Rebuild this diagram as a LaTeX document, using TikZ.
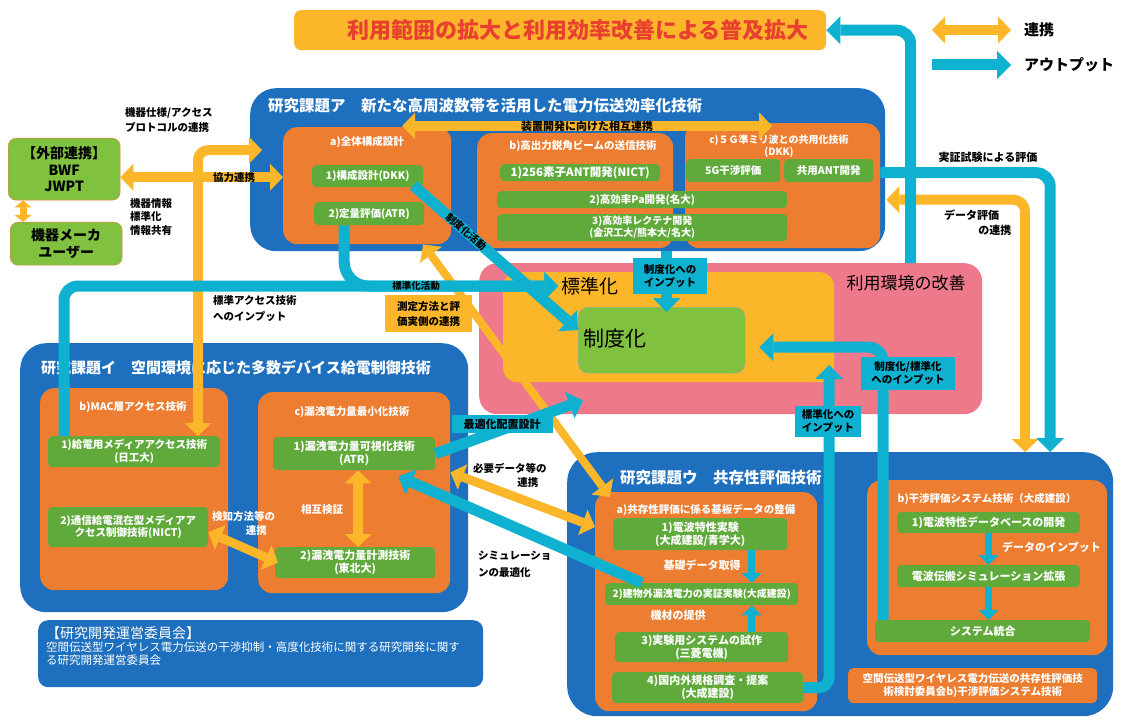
\documentclass[tikz,border=0pt]{standalone}
\usepackage{fontspec}
\setmainfont{Noto Sans CJK JP}
\usetikzlibrary{arrows.meta}
\definecolor{kadaiblue}{RGB}{30,112,190}
\definecolor{suborange}{RGB}{237,125,49}
\definecolor{boxgreen}{RGB}{96,170,60}
\definecolor{seidogreen}{RGB}{128,194,64}
\definecolor{linkyellow}{RGB}{252,182,42}
\definecolor{outcyan}{RGB}{14,178,208}
\definecolor{envpink}{RGB}{237,121,138}
\definecolor{bannerred}{RGB}{232,64,48}

\begin{document}
\begin{tikzpicture}[x=1pt,y=-1pt,
  kadai/.style={fill=kadaiblue,rounded corners=26pt,anchor=north west,inner sep=0pt},
  subbox/.style={fill=suborange,rounded corners=14pt,anchor=north west,inner sep=0pt},
  gbox/.style={fill=boxgreen,rounded corners=4pt,anchor=north west,inner sep=0pt,
    text=white,align=center,font=\bfseries\fontsize{10.5}{12.5}\selectfont},
  kadaittl/.style={anchor=west,inner sep=0pt,text=white,font=\bfseries\fontsize{15.5}{18}\selectfont},
  subttl/.style={inner sep=0pt,text=white,align=center,font=\bfseries\fontsize{10.5}{12.5}\selectfont},
  lbl/.style={inner sep=0pt,text=black,align=left,font=\bfseries\fontsize{10.5}{15}\selectfont},
  wlbl/.style={lbl,text=white},
  cyanlbl/.style={fill=outcyan,inner sep=2pt,text=black,align=center,font=\bfseries\fontsize{10.5}{13}\selectfont},
  linkarr/.style={draw=linkyellow,line width=10pt,>={Triangle[length=13pt,width=27pt,line width=0pt]}},
  outarr/.style={draw=outcyan,line width=11pt,>={Triangle[length=14pt,width=28pt,line width=0pt]}},
  smallout/.style={draw=outcyan,line width=7pt,>={Triangle[length=10pt,width=20pt,line width=0pt]}},
]
\fill[white] (0,0) rectangle (1135,722);
\useasboundingbox (0,0) rectangle (1135,722);

% banner and legend
\node[fill=linkyellow,rounded corners=7pt,anchor=north west,inner sep=0pt,
  minimum width=532pt,minimum height=40pt] (banner) at (294,10) {};
\node[inner sep=0pt,text=bannerred,font=\bfseries\fontsize{22}{24}\selectfont] (bannerT) at (578,30)
  {利用範囲の拡大と利用効率改善による普及拡大};
\coordinate (legL1) at (932,30);
\coordinate (legL2) at (1011,30);
\coordinate (legO1) at (932,65);
\coordinate (legO2) at (1011,65);
\draw[linkarr,<->] (legL1) -- (legL2);
\draw[outarr,->] (legO1) -- (legO2);
\node[lbl,anchor=west,font=\bfseries\fontsize{15}{17}\selectfont] (legLink) at (1024,30) {連携};
\node[lbl,anchor=west,font=\bfseries\fontsize{15}{17}\selectfont] (legOut) at (1024,65) {アウトプット};

% research topic A
\node[kadai,minimum width=635pt,minimum height=163pt] (kadaiA) at (250,88) {};
\node[kadaittl] (kadaiAT) at (268,106) {研究課題ア　新たな高周波数帯を活用した電力伝送効率化技術};
\node[subbox,minimum width=168pt,minimum height=117pt] (zentaiA) at (283,127) {};
\node[subttl] (zentaiAT) at (367,142) {a)全体構成設計};
\node[gbox,minimum width=111pt,minimum height=22pt] (kousei) at (312,165) {1)構成設計(DKK)};
\node[gbox,minimum width=110pt,minimum height=23pt] (teiryou) at (314,202) {2)定量評価(ATR)};
\node[subbox,minimum width=196pt,minimum height=115pt] (soushinB) at (477,133) {};
\node[subttl] (soushinBT) at (583,146) {b)高出力鋭角ビームの送信技術};
\node[subbox,minimum width=195pt,minimum height=125pt] (kyouyouC) at (685,123) {};
\node[subttl,font=\bfseries\fontsize{10}{12}\selectfont] (kyouyouCT) at (779,146) {c)５Ｇ準ミリ波との共用化技術\\(DKK)};
\node[gbox,minimum width=160pt,minimum height=17pt,font=\bfseries\fontsize{11.5}{13}\selectfont] (ant) at (500,164) {1)256素子ANT開発(NICT)};
\node[gbox,minimum width=290pt,minimum height=17pt] (pa) at (497,191) {2)高効率Pa開発(名大)};
\node[gbox,minimum width=290pt,minimum height=27pt,font=\bfseries\fontsize{10}{12}\selectfont] (rectenna) at (497,214) {3)高効率レクテナ開発\\(金沢工大/熊本大/名大)};
\node[gbox,minimum width=94pt,minimum height=23pt] (kanshou5g) at (686,159) {5G干渉評価};
\node[gbox,minimum width=89pt,minimum height=23pt] (kyouyouAnt) at (784,159) {共用ANT開発};

% external partners
\node[gbox,fill=seidogreen,draw=suborange,rounded corners=8pt,text=black,minimum width=112pt,minimum height=62pt,
  font=\bfseries\fontsize{14}{16.5}\selectfont] (gaibu) at (8,138) {【外部連携】\\BWF\\JWPT};
\node[gbox,fill=seidogreen,draw=suborange,rounded corners=8pt,text=black,minimum width=112pt,minimum height=43pt,
  font=\bfseries\fontsize{14}{17}\selectfont] (maker) at (10,222) {機器メーカ\\ユーザー};

% usage environment
\node[fill=envpink,rounded corners=18pt,anchor=north west,inner sep=0pt,minimum width=503pt,minimum height=151pt] (riyou) at (479,263) {};
\node[inner sep=0pt,font=\fontsize{17}{19}\selectfont] (riyouT) at (906,283) {利用環境の改善};
\node[fill=linkyellow,rounded corners=14pt,anchor=north west,inner sep=0pt,minimum width=331pt,minimum height=110pt] (hyoujunBox) at (503,272) {};
\node[inner sep=0pt,font=\fontsize{19}{21}\selectfont] (hyoujunT) at (590,286) {標準化};
\node[fill=seidogreen,draw=gray!70,rounded corners=10pt,anchor=north west,inner sep=0pt,minimum width=167pt,minimum height=66pt] (seido) at (578,307) {};
\node[inner sep=0pt,font=\fontsize{21}{23}\selectfont] (seidoT) at (615,339) {制度化};

% research topic I
\node[kadai,minimum width=448pt,minimum height=269pt] (kadaiI) at (20,343) {};
\node[kadaittl,font=\bfseries\fontsize{15}{18}\selectfont] (kadaiIT) at (41,368) {研究課題イ　空間環境に応じた多数デバイス給電制御技術};
\node[subbox,minimum width=188pt,minimum height=202pt] (macB) at (40,388) {};
\node[subttl] (macBT) at (133,407) {b)MAC層アクセス技術};
\node[gbox,minimum width=172pt,minimum height=31pt] (kyuuden) at (48,436) {1)給電用メディアアクセス技術\\(日工大)};
\node[gbox,minimum width=160pt,minimum height=40pt] (tsushin) at (48,507) {2)通信給電混在型メディアア\\クセス制御技術(NICT)};
\node[subbox,minimum width=192pt,minimum height=201pt] (roueiC) at (258,392) {};
\node[subttl] (roueiCT) at (352,412) {c)漏洩電力量最小化技術};
\node[gbox,minimum width=162pt,minimum height=33pt,font=\bfseries\fontsize{11}{13}\selectfont] (kashika) at (273,437) {1)漏洩電力量可視化技術\\(ATR)};
\node[gbox,minimum width=160pt,minimum height=31pt,font=\bfseries\fontsize{11}{13}\selectfont] (keisoku) at (275,547) {2)漏洩電力量計測技術\\(東北大)};

% research topic U
\node[kadai,rounded corners=30pt,minimum width=546pt,minimum height=264pt] (kadaiU) at (567,452) {};
\node[kadaittl] (kadaiUT) at (620,478) {研究課題ウ　共存性評価技術};
\node[subbox,minimum width=222pt,minimum height=219pt] (kyouzonA) at (595,492) {};
\node[subttl] (kyouzonAT) at (706,510) {a)共存性評価に係る基板データの整備};
\node[gbox,minimum width=174pt,minimum height=32pt,font=\bfseries\fontsize{11}{13}\selectfont] (denpa) at (613,518) {1)電波特性実験\\(大成建設/青学大)};
\node[gbox,minimum width=193pt,minimum height=22pt,font=\bfseries\fontsize{10}{12}\selectfont] (tatemono) at (605,583) {2)建物外漏洩電力の実証実験(大成建設)};
\node[gbox,minimum width=173pt,minimum height=30pt,font=\bfseries\fontsize{11}{13}\selectfont] (shisaku) at (615,632) {3)実験用システムの試作\\(三菱電機)};
\node[gbox,minimum width=191pt,minimum height=31pt,font=\bfseries\fontsize{11}{13}\selectfont] (kikaku) at (612,672) {4)国内外規格調査・提案\\(大成建設)};
\node[subbox,minimum width=240pt,minimum height=175pt] (kanshoB) at (867,480) {};
\node[subttl] (kanshoBT) at (987,499) {b)干渉評価システム技術（大成建設）};
\node[gbox,minimum width=183pt,minimum height=21pt,font=\bfseries\fontsize{11}{13}\selectfont] (db) at (897,512) {1)電波特性データベースの開発};
\node[gbox,minimum width=183pt,minimum height=22pt,font=\bfseries\fontsize{11}{13}\selectfont] (sim) at (897,565) {電波伝搬シミュレーション拡張};
\node[gbox,minimum width=215pt,minimum height=22pt,font=\bfseries\fontsize{11}{13}\selectfont] (tougou) at (875,620) {システム統合};
\node[subbox,rounded corners=5pt,minimum width=249pt,minimum height=35pt,text=white,align=center,
  font=\bfseries\fontsize{10.5}{13}\selectfont] (iinkai) at (848,668) {空間伝送型ワイヤレス電力伝送の共存性評価技\\術検討委員会b)干渉評価システム技術};

% steering committee
\node[fill=kadaiblue,rounded corners=10pt,anchor=north west,inner sep=0pt,minimum width=445pt,minimum height=67pt] (unei) at (38,620) {};
\node[anchor=north west,inner sep=0pt,text=white,align=left,font=\fontsize{11.5}{13}\selectfont] (uneiT) at (46,626)
  {{\fontsize{14}{17}\selectfont 【研究開発運営委員会】}\\空間伝送型ワイヤレス電力伝送の干渉抑制・高度化技術に関する研究開発に関す\\る研究開発運営委員会};

% links
\draw[linkarr,<->] ([xshift=35pt,yshift=1pt]zentaiA.north) -- ([xshift=-10.5pt,yshift=-3pt]kyouyouC.north)
  node[pos=0.5,lbl,font=\bfseries\fontsize{11}{13}\selectfont] (sougoL) {装置開発に向けた相互連携};
\draw[linkarr,<->] ([yshift=-8pt]gaibu.east) -- ([yshift=8.5pt]zentaiA.west)
  node[pos=0.7,lbl] (kyouryokuL) {協力連携};
\draw[linkarr,<->,line width=7pt,>={Triangle[length=7pt,width=17pt,line width=0pt]}] ([xshift=15pt]gaibu.south west) -- ([xshift=13pt]maker.north west);
\draw[linkarr,<->,rounded corners=10pt] ([xshift=150pt]kyuuden.north west) |- ([xshift=12pt,yshift=19.5pt]kadaiA.west);
\draw[linkarr,<->,line width=8pt] ([xshift=56pt]zentaiA.south) -- ([xshift=15pt,yshift=-5pt]kyouzonA.north west);
\draw[linkarr,<->,line width=9pt] ([xshift=15pt,yshift=-2pt]kashika.south east) -- ([yshift=-35pt]kyouzonA.north west);
\draw[linkarr,<->,line width=9pt] ([yshift=-5pt]tsushin.east) -- ([xshift=3pt]keisoku.west);
\draw[linkarr,<->] ([xshift=4pt]kashika.south) -- ([xshift=3pt]keisoku.north);
\draw[linkarr,<->,rounded corners=12pt] ([xshift=6pt,yshift=-14pt]kyouyouC.east) -| ([xshift=185pt]kadaiU.north);

% outputs
\draw[outarr,->,rounded corners=14pt] ([xshift=180pt]riyou.north) |- (banner.east);
\draw[outarr,->,rounded corners=14pt] ([yshift=13pt]kyouyouC.east) -| ([xshift=210pt]kadaiU.north);
\draw[outarr,->,rounded corners=24pt] ([xshift=-25pt]teiryou.south) |- ([xshift=-3pt]hyoujunT.west);
\draw[outarr,->,rounded corners=14pt] ([xshift=16pt]kyuuden.north west) |- ([xshift=-3pt]hyoujunT.west);
\draw[outarr,->] ([xshift=-10pt,yshift=2pt]kousei.south east) -- ([yshift=-23pt]seido.north west)
  node[pos=0.32,sloped,lbl,font=\bfseries\fontsize{10}{12}\selectfont] (seidoKatsudouL) {制度化活動};
\draw[outarr,->] ([xshift=99pt]kadaiA.south) -- ([xshift=5pt,yshift=-5pt]seido.north);
\draw[outarr,->] (kashika.east) -- ([xshift=104pt,yshift=14pt]riyou.south west);
\draw[outarr,->] ([xshift=37pt]tatemono.north west) -- ([xshift=-37pt,yshift=-6pt]kashika.south east);
\coordinate (hyoujunTip) at (829,365);
\draw[outarr,->,rounded corners=10pt] (kikaku.east) -| (hyoujunTip);
\draw[outarr,->,rounded corners=14pt] ([xshift=8pt]tougou.north west) |- ([xshift=14pt,yshift=-7pt]seido.east);
\draw[smallout,->] ([xshift=51.5pt]denpa.south) -- ([xshift=50pt]tatemono.north);
\draw[smallout,->] ([xshift=50pt]shisaku.north) -- ([xshift=50pt]tatemono.south);
\draw[smallout,->] (db.south) -- (sim.north);
\draw[smallout,->] (sim.south) -- ([xshift=6pt]tougou.north);

% labels
\node[lbl,anchor=north west] (kikiShiyouL) at (125,107) {機器仕様/アクセス\\プロトコルの連携};
\node[lbl,anchor=north west,font=\bfseries\fontsize{10.5}{13.5}\selectfont] (kikiJouhouL) at (130,198) {機器情報\\標準化\\情報共有};
\node[lbl,font=\bfseries\fontsize{9.5}{11}\selectfont] (hyoujunKatsudouL) at (416,286) {標準化活動};
\node[lbl,anchor=north west,font=\bfseries\fontsize{10.5}{16}\selectfont] (accessL) at (213,295) {標準アクセス技術\\へのインプット};
\node[fill=linkyellow,anchor=north west,inner sep=0pt,minimum width=87pt,minimum height=37pt,align=left,
  font=\bfseries\fontsize{10.5}{15}\selectfont] (sokuteiL) at (385,295) {測定方法と評\\価実側の連携};
\node[cyanlbl,minimum width=74pt,minimum height=36pt] (seidoInL) at (670,276) {制度化への\\インプット};
\node[cyanlbl,minimum width=101pt,minimum height=18pt,font=\bfseries\fontsize{11}{13}\selectfont] (saitekiL) at (502,424) {最適化配置設計};
\node[cyanlbl,minimum width=66pt,minimum height=31pt] (hyoujunInL) at (828,421) {標準化への\\インプット};
\node[cyanlbl,minimum width=94pt,minimum height=33pt] (seidoIn2L) at (908,373) {制度化/標準化\\へのインプット};
\node[wlbl] (sougoKenshouL) at (322,510) {相互検証};
\node[wlbl,anchor=north west,font=\bfseries\fontsize{10.5}{14}\selectfont] (kenchiL) at (212,511) {検知方法等の\\\hspace*{3.2em}連携};
\node[lbl,anchor=north west,font=\bfseries\fontsize{10.5}{14}\selectfont] (hitsuyouL) at (473,463) {必要データ等の\\\hspace*{4.2em}連携};
\node[lbl,anchor=north west,font=\bfseries\fontsize{10.5}{17}\selectfont] (simL) at (478,551) {シミュレーショ\\ンの最適化};
\node[wlbl,font=\bfseries\fontsize{11}{13}\selectfont] (kisoL) at (702,565) {基礎データ取得};
\node[wlbl,font=\bfseries\fontsize{11}{13}\selectfont] (kizaiL) at (678,615) {機材の提供};
\node[wlbl,anchor=west,font=\bfseries\fontsize{11}{13}\selectfont] (dataInL) at (1002,547) {データのインプット};
\node[lbl,font=\bfseries\fontsize{11}{13}\selectfont] (jisshouL) at (988,157) {実証試験による評価};
\node[lbl,anchor=north west,font=\bfseries\fontsize{11}{15}\selectfont] (dataHyoukaL) at (944,210) {データ評価\\\hspace*{3.1em}の連携};
\end{tikzpicture}
\end{document}
